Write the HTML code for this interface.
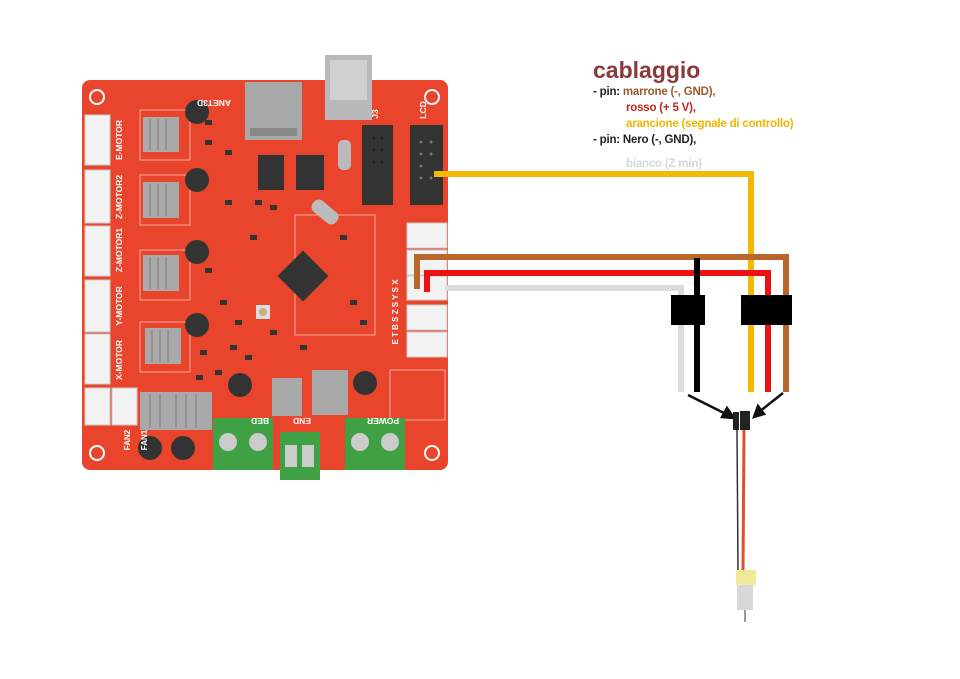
<!DOCTYPE html>
<html><head><meta charset="utf-8"><style>
html,body{margin:0;padding:0;background:#fff;}
body{width:960px;height:679px;position:relative;overflow:hidden;font-family:"Liberation Sans",sans-serif;}
.t{position:absolute;font-weight:bold;font-size:11.5px;white-space:nowrap;letter-spacing:-0.2px;}
</style></head><body>
<svg width="960" height="679" style="position:absolute;left:0;top:0">
<!-- board -->
<rect x="82" y="80" width="366" height="390" rx="8" fill="#e8452c"/>
<rect x="325" y="55" width="47" height="65" fill="#b9b9b9"/>
<rect x="330" y="60" width="37" height="40" fill="#d0d0d0"/>
<rect x="245" y="82" width="57" height="58" fill="#a8a8a8"/>
<rect x="250" y="128" width="47" height="8" fill="#888"/>
<g fill="none" stroke="#fff" stroke-width="2">
<circle cx="97" cy="97" r="7"/><circle cx="432" cy="97" r="7"/><circle cx="97" cy="453" r="7"/><circle cx="432" cy="453" r="7"/>
</g>
<g fill="none" stroke="#f7a99a" stroke-width="1">
<rect x="140" y="110" width="50" height="50"/><rect x="140" y="175" width="50" height="50"/><rect x="140" y="250" width="50" height="50"/><rect x="140" y="322" width="50" height="50"/>
<rect x="295" y="215" width="80" height="120"/><rect x="390" y="370" width="55" height="50"/>
</g>
<g fill="#f2f2f2" stroke="#ccc">
<rect x="85" y="115" width="25" height="50"/><rect x="85" y="170" width="25" height="53"/><rect x="85" y="226" width="25" height="50"/><rect x="85" y="280" width="25" height="52"/><rect x="85" y="334" width="25" height="50"/>
<rect x="85" y="388" width="25" height="37"/><rect x="112" y="388" width="25" height="37"/>
<rect x="407" y="223" width="40" height="25"/><rect x="407" y="250" width="40" height="25"/><rect x="407" y="276" width="40" height="24"/><rect x="407" y="305" width="40" height="25"/><rect x="407" y="332" width="40" height="25"/>
</g>
<g fill="#a9a9a9">
<rect x="143" y="117" width="36" height="35"/><rect x="143" y="182" width="36" height="36"/><rect x="143" y="255" width="36" height="36"/><rect x="145" y="328" width="36" height="36"/>
<rect x="140" y="392" width="72" height="38"/><rect x="272" y="378" width="30" height="38"/><rect x="312" y="370" width="36" height="45"/>
</g>
<g stroke="#8a8a8a" stroke-width="1.5">
<line x1="150" y1="119" x2="150" y2="150"/><line x1="158" y1="119" x2="158" y2="150"/><line x1="166" y1="119" x2="166" y2="150"/>
<line x1="150" y1="184" x2="150" y2="216"/><line x1="158" y1="184" x2="158" y2="216"/><line x1="166" y1="184" x2="166" y2="216"/>
<line x1="150" y1="257" x2="150" y2="289"/><line x1="158" y1="257" x2="158" y2="289"/><line x1="166" y1="257" x2="166" y2="289"/>
<line x1="152" y1="330" x2="152" y2="362"/><line x1="160" y1="330" x2="160" y2="362"/><line x1="168" y1="330" x2="168" y2="362"/>
<line x1="150" y1="394" x2="150" y2="428"/><line x1="160" y1="394" x2="160" y2="428"/><line x1="176" y1="394" x2="176" y2="428"/><line x1="186" y1="394" x2="186" y2="428"/><line x1="196" y1="394" x2="196" y2="428"/>
</g>
<g fill="#333">
<circle cx="197" cy="112" r="12"/><circle cx="197" cy="180" r="12"/><circle cx="197" cy="252" r="12"/><circle cx="197" cy="325" r="12"/>
<circle cx="240" cy="385" r="12"/><circle cx="365" cy="383" r="12"/><circle cx="150" cy="448" r="12"/><circle cx="183" cy="448" r="12"/>
<rect x="362" y="125" width="31" height="80"/><rect x="410" y="125" width="33" height="80"/>
<rect x="258" y="155" width="26" height="35"/><rect x="296" y="155" width="28" height="35"/>
<rect x="285" y="258" width="36" height="36" transform="rotate(45 303 276)"/>
<rect x="205" y="120" width="7" height="5"/><rect x="205" y="140" width="7" height="5"/><rect x="225" y="150" width="7" height="5"/>
<rect x="225" y="200" width="7" height="5"/><rect x="205" y="268" width="7" height="5"/><rect x="220" y="300" width="7" height="5"/>
<rect x="200" y="350" width="7" height="5"/><rect x="230" y="345" width="7" height="5"/><rect x="255" y="200" width="7" height="5"/>
<rect x="270" y="205" width="7" height="5"/><rect x="350" y="300" width="7" height="5"/><rect x="360" y="320" width="7" height="5"/>
<rect x="270" y="330" width="7" height="5"/><rect x="245" y="355" width="7" height="5"/><rect x="300" y="345" width="7" height="5"/>
<rect x="250" y="235" width="7" height="5"/><rect x="340" y="235" width="7" height="5"/><rect x="235" y="320" width="7" height="5"/>
<rect x="196" y="375" width="7" height="5"/><rect x="215" y="370" width="7" height="5"/>
</g>
<g fill="#222">
<circle cx="374" cy="138" r="1.5"/><circle cx="382" cy="138" r="1.5"/><circle cx="374" cy="150" r="1.5"/><circle cx="382" cy="150" r="1.5"/><circle cx="374" cy="162" r="1.5"/><circle cx="382" cy="162" r="1.5"/>
</g>
<g fill="#777">
<circle cx="421" cy="142" r="1.5"/><circle cx="431" cy="142" r="1.5"/><circle cx="421" cy="154" r="1.5"/><circle cx="431" cy="154" r="1.5"/><circle cx="421" cy="166" r="1.5"/><circle cx="421" cy="178" r="1.5"/><circle cx="431" cy="178" r="1.5"/>
</g>
<rect x="338" y="140" width="13" height="30" rx="5" fill="#bbb"/>
<rect x="310" y="205" width="30" height="14" rx="6" fill="#bbb" transform="rotate(40 325 212)"/>
<rect x="256" y="305" width="14" height="14" fill="#ddd"/><circle cx="263" cy="312" r="4" fill="#c9b27a"/>
<g fill="#3fa044">
<rect x="213" y="418" width="60" height="52"/><rect x="280" y="432" width="40" height="48"/><rect x="345" y="418" width="60" height="52"/></g>
<g fill="#ccc"><circle cx="228" cy="442" r="9"/><circle cx="258" cy="442" r="9"/><circle cx="360" cy="442" r="9"/><circle cx="390" cy="442" r="9"/>
<rect x="285" y="445" width="12" height="22"/><rect x="302" y="445" width="12" height="22"/></g>
<g fill="#fff" font-family="Liberation Sans, sans-serif" font-size="8.5" font-weight="bold" text-anchor="middle">
<text transform="translate(122,140) rotate(-90)">E-MOTOR</text>
<text transform="translate(122,197) rotate(-90)">Z-MOTOR2</text>
<text transform="translate(122,250) rotate(-90)">Z-MOTOR1</text>
<text transform="translate(122,306) rotate(-90)">Y-MOTOR</text>
<text transform="translate(122,360) rotate(-90)">X-MOTOR</text>
<text transform="translate(214,100) rotate(180)">ANET3D</text>
<text transform="translate(260,418) rotate(180)">BED</text>
<text transform="translate(302,418) rotate(180)">END</text>
<text transform="translate(383,418) rotate(180)">POWER</text>
<text transform="translate(378,114) rotate(-90)">J3</text>
<text transform="translate(426,110) rotate(-90)">LCD</text>
<text transform="translate(398,312) rotate(-90)" font-size="8">E T B S Z S Y S X</text>
<text transform="translate(130,440) rotate(-90)" font-size="8">FAN2</text>
<text transform="translate(147,440) rotate(-90)" font-size="8">FAN1</text>
</g>
<!-- wires -->
<g fill="none" stroke-width="6" stroke-linejoin="miter">
<polyline points="434,174 751,174 751,392" stroke="#f5b800"/>
<polyline points="417,289 417,257 786,257 786,392" stroke="#b7672b"/>
<polyline points="427,292 427,273 768,273 768,392" stroke="#ee1111"/>
<polyline points="445,288 681,288 681,392" stroke="#dcdcdc"/>
<polyline points="697,258 697,392" stroke="#000"/>
</g>
<rect x="671" y="295" width="34" height="30" fill="#000"/>
<rect x="741" y="295" width="51" height="30" fill="#000"/>
<g stroke="#111" stroke-width="2.5" fill="#111">
<line x1="688" y1="395" x2="728" y2="415"/><polygon points="734,418 722,417 727,408" />
<line x1="783" y1="393" x2="759" y2="412"/><polygon points="754,417 758,406 764,414"/>
</g>
<!-- sensor -->
<line x1="737" y1="430" x2="738" y2="570" stroke="#333" stroke-width="1.5"/>
<line x1="744" y1="430" x2="743" y2="570" stroke="#e0502a" stroke-width="3"/>
<rect x="733" y="412" width="6" height="18" fill="#222"/>
<rect x="740" y="411" width="10" height="19" fill="#222"/>
<rect x="736" y="570" width="20" height="15" fill="#f1ea9a"/>
<rect x="737" y="585" width="16" height="25" fill="#d8d8d8"/>
<line x1="745" y1="610" x2="745" y2="622" stroke="#999" stroke-width="2"/>
</svg>
<div class="t" style="left:593px;top:57px;font-size:23px;color:#8b3a3a;letter-spacing:0">cablaggio</div>
<div class="t" style="left:593px;top:86px;color:#222">- pin: <span style="color:#9a5a2a">marrone (-, GND),</span></div>
<div class="t" style="left:626px;top:102px;color:#c0281e">rosso (+ 5 V),</div>
<div class="t" style="left:626px;top:118px;color:#f0b400">arancione (segnale di controllo)</div>
<div class="t" style="left:593px;top:134px;color:#222">- pin: Nero (-, GND),</div>
<div class="t" style="left:626px;top:158px;color:#d6d6d6">bianco (Z min)</div>
</body></html>
